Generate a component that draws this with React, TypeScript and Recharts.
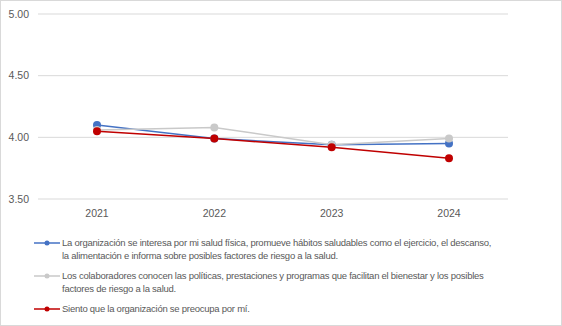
import React from 'react';
import { LineChart, Line, XAxis, YAxis, CartesianGrid } from 'recharts';

const years = ['2021', '2022', '2023', '2024'];
const saludFisica = [4.10, 3.99, 3.94, 3.95];
const colaboradores = [4.06, 4.08, 3.94, 3.99];
const preocupa = [4.05, 3.99, 3.92, 3.83];
const yTicks = [3.5, 4.0, 4.5, 5.0];

const seriesInfo = [
    { key: 'salud', name: 'La organización se interesa por mi salud física, promueve hábitos saludables como el ejercicio, el descanso, la alimentación e informa sobre posibles factores de riesgo a la salud.', color: '#4472C4' },
    { key: 'colab', name: 'Los colaboradores conocen las políticas, prestaciones y programas que facilitan el bienestar y los posibles factores de riesgo a la salud.', color: '#C9C9C9' },
    { key: 'preocupa', name: 'Siento que la organización se preocupa por mí.', color: '#C00000' },
];

const data = years.map((year, i) => ({
    year,
    salud: saludFisica[i],
    colab: colaboradores[i],
    preocupa: preocupa[i],
}));

const font = '"Liberation Sans", Arial, sans-serif';

const App: React.FC = () => {
    return (
        <div style={{ position: 'absolute', left: 0, top: 0, width: 562, height: 326, boxSizing: 'border-box', border: '1px solid #d9d9d9', background: '#fff', fontFamily: font }}>
            <div style={{ position: 'absolute', left: -1, top: -1 }}>
                <LineChart width={562} height={230} data={data} margin={{ top: 14, right: 54, left: 0, bottom: 9 }}>
                    <CartesianGrid vertical={false} stroke="#d9d9d9" />
                    <XAxis dataKey="year" axisLine={false} tickLine={false} tickSize={0} tickMargin={11} height={22}
                        padding={{ left: 59, right: 59 }}
                        tick={{ fill: '#595959', fontSize: 10.5, fontFamily: font }} />
                    <YAxis domain={[3.5, 5]} ticks={yTicks} axisLine={false} tickLine={false} tickSize={0} tickMargin={9} width={38}
                        tickFormatter={(v: number) => v.toFixed(2)} tick={{ fill: '#595959', fontSize: 10.5, fontFamily: font }} />
                    {seriesInfo.map((s) => (
                        <Line key={s.key} dataKey={s.key} name={s.name} stroke={s.color} strokeWidth={1.5}
                            dot={{ r: 4, fill: s.color, stroke: s.color, strokeWidth: 0 }} isAnimationActive={false} />
                    ))}
                </LineChart>
            </div>
            <div style={{ position: 'absolute', left: 33, top: 236, width: 470 }}>
                {seriesInfo.map((s, i) => (
                    <div key={s.key} style={{ display: 'flex', alignItems: 'flex-start', marginBottom: i === 2 ? 0 : 8 }}>
                        <svg width={26} height={12} style={{ flex: 'none', marginRight: 2 }}>
                            <line x1={0} y1={6} x2={26} y2={6} stroke={s.color} strokeWidth={1.5} />
                            <circle cx={13} cy={6} r={2.5} fill={s.color} />
                        </svg>
                        <div style={{ fontSize: 9.5, letterSpacing: -0.25, lineHeight: '12.5px', color: '#595959', width: 432 }}>{s.name}</div>
                    </div>
                ))}
            </div>
        </div>
    );
};

export default App;
